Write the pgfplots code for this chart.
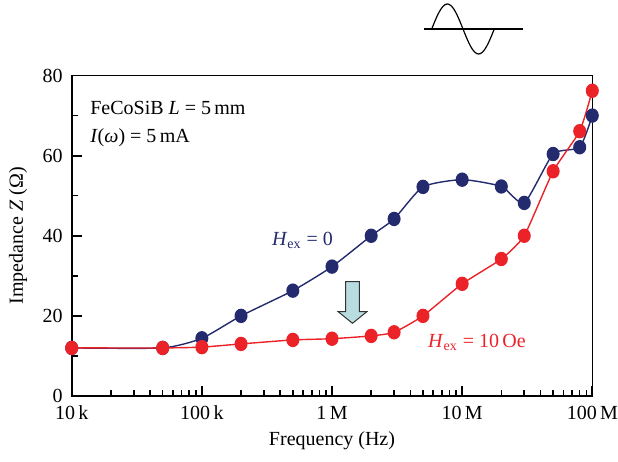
\documentclass[border=0pt]{standalone}
\usepackage{fontspec}
\setmainfont{Liberation Serif}
\usepackage{pgfplots}
\pgfplotsset{compat=1.18}
\definecolor{navy}{RGB}{35,42,110}
\definecolor{myred}{RGB}{236,34,41}
\definecolor{arrowfill}{RGB}{184,220,223}
\begin{document}
\fontsize{10pt}{12pt}\selectfont
\begin{tikzpicture}
\path[use as bounding box] (0,0) rectangle (309pt,231pt);
\begin{axis}[
  at={(35.85pt,33pt)}, anchor=south west,
  scale only axis, width=260.3pt, height=160.25pt,
  xmode=log, xmin=1e4, xmax=1e8, ymin=0, ymax=80,
  xtick={1e4,1e5,1e6,1e7,1e8},
  xticklabels={10\,k,100\,k,1\,M,10\,M,100\,M},
  minor xtick={2e4,3e4,4e4,5e4,6e4,7e4,8e4,9e4,
               2e5,3e5,4e5,5e5,6e5,7e5,8e5,9e5,
               2e6,3e6,4e6,5e6,6e6,7e6,8e6,9e6,
               2e7,3e7,4e7,5e7,6e7,7e7,8e7,9e7},
  ytick={0,20,40,60,80}, minor ytick={10,30,50,70},
  xtick pos=bottom, ytick pos=left, tick align=inside,
  major tick length=5pt, minor tick length=3.2pt,
  axis line style={line width=0.8pt},
  major tick style={black, line width=0.9pt},
  minor tick style={black, line width=0.8pt},
  axis on top,
  /pgf/number format/assume math mode=true,
  tick label style={font=\fontsize{10pt}{12pt}\selectfont},
  xticklabel style={yshift=-1.5pt},
  yticklabel style={xshift=-1pt},
  xlabel={Frequency (Hz)},
  ylabel={Impedance \textit{Z} (Ω)},
  every axis x label/.style={at={(axis description cs:0.5,-0.14)}, anchor=center},
  every axis y label/.style={at={(axis description cs:-0.103,0.5)}, rotate=90, anchor=center},
  label style={font=\fontsize{10pt}{12pt}\selectfont},
  clip=false,
]
\addplot[navy, line width=0.7pt, smooth, tension=0.35, mark=*, mark size=2.9pt, mark options={yscale=1.12}]
coordinates {
(1e4,12) (5e4,12) (1e5,14.4) (2e5,20) (5e5,26.3) (1e6,32.3) (2e6,40) (3e6,44.2)
(5e6,52.2) (1e7,54) (2e7,52.3) (3e7,48.2) (5e7,60.4) (8e7,62.1) (1e8,70)
};
\addplot[myred, line width=0.7pt, smooth, tension=0.3, mark=*, mark size=2.9pt, mark options={yscale=1.12}]
coordinates {
(1e4,12) (5e4,12) (1e5,12.2) (2e5,13) (5e5,14) (1e6,14.3) (2e6,15) (3e6,15.9)
(5e6,20) (1e7,28) (2e7,34.2) (3e7,40) (5e7,56.1) (8e7,66.1) (1e8,76.2)
};
\node[anchor=base west, inner sep=0pt] at (axis cs:1.38e4,70.2) {FeCoSiB \textit{L} = 5\,mm};
\node[anchor=base west, inner sep=0pt] at (axis cs:1.38e4,63.2) {\textit{I}(\textit{ω}) = 5\,mA};
\node[anchor=base west, inner sep=0pt, text=navy] at (axis cs:3.44e5,37.5) {\textit{H}\textsubscript{ex} = 0};
\node[anchor=base west, inner sep=0pt, text=myred] at (axis cs:5.45e6,12.1) {\textit{H}\textsubscript{ex} = 10\,Oe};
\end{axis}
% arrow
\draw[fill=arrowfill, draw=black!80, line width=0.5pt]
 (172.85pt,90.15pt) -- (179.65pt,90.15pt) -- (179.65pt,75.15pt) -- (183.4pt,75.15pt)
 -- (176.25pt,69.35pt) -- (169.1pt,75.15pt) -- (172.85pt,75.15pt) -- cycle;
% sine symbol
\draw[line width=0.6pt] (212pt,216.5pt) -- (261.3pt,216.5pt);
\draw[line width=0.6pt] (215.85pt,216.5pt) sin (223.7pt,229pt) cos (231.5pt,216.5pt) sin (239.3pt,204pt) cos (247.15pt,216.5pt);
\end{tikzpicture}
\end{document}
